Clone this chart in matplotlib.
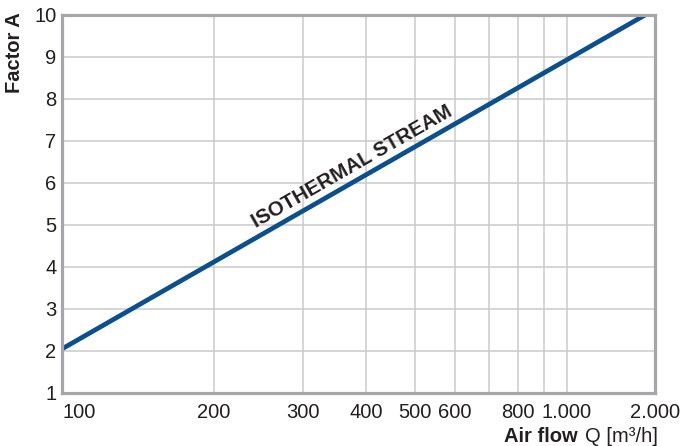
import numpy as np
import matplotlib
matplotlib.use("Agg")
import matplotlib.pyplot as plt

plt.rcParams['font.family'] = ['Liberation Sans', 'DejaVu Sans']

# data
flow = [100, 1850]          # m3/h
factor = [2.05, 10.0]       # Factor A
tick_vals = [100, 200, 300, 400, 500, 600, 800, 1000, 2000]
tick_labels = ["100", "200", "300", "400", "500", "600", "800", "1.000", "2.000"]
minor_vals = [700, 900]
y_ticks = [1, 2, 3, 4, 5, 6, 7, 8, 9, 10]

line_col = "#0b4f8e"
spine_col = "#a6a6aa"
grid_col = "#cacaca"
text_col = "#231f20"

# the log axis is squeezed between 1.000 and 2.000 in the original
k = 0.58

def fwd(x):
    lx = np.log10(np.maximum(np.asarray(x, dtype=float), 1e-9))
    return np.where(lx <= 3, lx, 3 + k * (lx - 3))

def inv(y):
    y = np.asarray(y, dtype=float)
    return np.where(y <= 3, 10 ** y, 10 ** (3 + (y - 3) / k))

fig = plt.figure(figsize=(6.81, 4.46), dpi=100)
ax = fig.add_axes([62 / 681, 53 / 446, 593 / 681, 378 / 446])
ax.set_xscale('function', functions=(fwd, inv))
ax.set_xlim(100, 2000)
ax.set_ylim(1, 10)

ax.set_xticks(tick_vals)
ax.set_xticklabels(tick_labels)
ax.set_xticks(minor_vals, minor=True)
ax.set_yticks(y_ticks)
ax.tick_params(axis='both', which='both', length=0, labelsize=14.5, colors=text_col)
ax.tick_params(axis='x', pad=7)
ax.tick_params(axis='y', pad=4)
ax.get_xticklabels()[0].set_horizontalalignment('left')

ax.grid(True, which='both', color=grid_col, lw=1.1)
ax.set_axisbelow(True)
for s in ax.spines.values():
    s.set_color(spine_col)
    s.set_linewidth(2.3)

ax.plot(flow, factor, color=line_col, lw=3.4, solid_capstyle='butt', clip_on=True)

# label along the line
p = ax.transData.transform(np.column_stack([flow, factor]))
ang = np.degrees(np.arctan2(p[1, 1] - p[0, 1], p[1, 0] - p[0, 0]))
ax.text(375, 6.4, "ISOTHERMAL STREAM", rotation=ang, rotation_mode='anchor',
        ha='center', va='center', fontsize=14.8, fontweight='bold', color=text_col)

fig.text(15 / 681, 1 - 53 / 446, "Factor A", rotation=90, ha='center', va='center',
         fontsize=14.5, fontweight='bold', color=text_col)

r = fig.canvas.get_renderer()
t1 = fig.text(658 / 681, 1 - 436 / 446, "Q [m\u00b3/h]", ha='right', va='center',
              fontsize=14.5, color=text_col)
bb = t1.get_window_extent(renderer=r)
fig.text((bb.x0 - 7) / 681, 1 - 436 / 446, "Air flow", ha='right', va='center',
         fontsize=14.5, fontweight='bold', color=text_col)

fig.savefig("out.png", dpi=100)
